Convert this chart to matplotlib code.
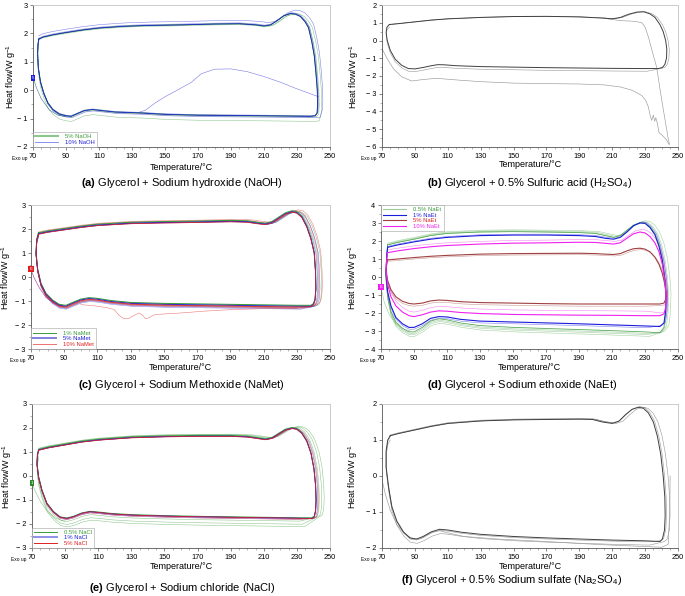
import numpy as np
import matplotlib
matplotlib.use("Agg")
import matplotlib.pyplot as plt
from matplotlib.lines import Line2D
from matplotlib.ticker import MultipleLocator, FuncFormatter

plt.rcParams['font.family'] = ['Liberation Sans', 'DejaVu Sans']
plt.rcParams['mathtext.fontset'] = 'custom'
plt.rcParams['mathtext.rm'] = 'Liberation Sans'
plt.rcParams['mathtext.it'] = 'Liberation Sans:italic'
plt.rcParams['mathtext.bf'] = 'Liberation Sans:bold'

# ---------------- data ----------------
# (a) NaOH : heating branch (upper + right side) and cooling branch (lower + left side)
A_UP_T = [73.5, 76, 82, 90, 100, 110, 125, 140, 160, 180, 195, 205, 210, 214, 218, 222, 226, 229, 232, 235, 237, 239, 240.5, 241.5, 242.3, 242.5, 242.2]
A_UP_Q = [1.80, 1.87, 1.95, 2.03, 2.12, 2.19, 2.25, 2.28, 2.30, 2.33, 2.34, 2.30, 2.26, 2.30, 2.45, 2.62, 2.70, 2.68, 2.60, 2.40, 2.20, 1.70, 1.20, 0.60, 0.00, -0.50, -0.80]
A_LO_T = [241, 238, 225, 210, 190, 170, 150, 135, 120, 112, 106, 101, 97, 93, 90, 86, 82, 79, 76.5, 74.5, 73.2, 72.8, 73.0, 73.5]
A_LO_Q = [-0.90, -0.92, -0.91, -0.90, -0.89, -0.88, -0.85, -0.80, -0.77, -0.72, -0.68, -0.72, -0.82, -0.92, -0.90, -0.84, -0.68, -0.45, -0.10, 0.30, 0.80, 1.30, 1.60, 1.80]
A_INIT_T = [70, 72, 75, 80, 85, 90]
A_INIT_Q = [0.45, 0.10, -0.30, -0.70, -0.88, -0.93]
A_ODD_T = [243, 236, 229, 220, 210, 200, 190, 180, 172, 166, 158, 150, 144, 138, 134]
A_ODD_Q = [-0.23, -0.08, 0.07, 0.28, 0.48, 0.65, 0.75, 0.74, 0.58, 0.28, 0.02, -0.23, -0.45, -0.71, -0.78]
# cycles: (right-side stretch in degC, shift of cooling branch, shift of heating branch)
A_CYC_5 = [(0, 0, 0), (1.0, -0.03, -0.03), (2.5, -0.18, 0.0)]
A_CYC_10 = [(0, 0, 0), (0.5, 0.02, 0.03), (3.2, -0.05, 0.12)]

# (b) 0.5% H2SO4
B_UP_T = [74.5, 80, 90, 100, 110, 130, 150, 170, 190, 205, 210, 215, 220, 225, 229, 233, 236, 239, 241, 242.5, 243.2, 243, 242, 240.5, 238]
B_UP_Q = [0.90, 0.95, 1.05, 1.15, 1.22, 1.30, 1.35, 1.36, 1.33, 1.26, 1.22, 1.30, 1.48, 1.60, 1.62, 1.50, 1.30, 0.90, 0.50, 0.00, -0.50, -1.00, -1.35, -1.52, -1.58]
B_LO_T = [230, 210, 190, 170, 150, 130, 115, 108, 104, 100, 95, 90, 86, 82, 78, 75, 73.2, 72.5, 73, 74.5]
B_LO_Q = [-1.58, -1.57, -1.55, -1.53, -1.50, -1.47, -1.42, -1.37, -1.36, -1.42, -1.52, -1.60, -1.58, -1.40, -1.05, -0.55, 0.00, 0.45, 0.75, 0.90]
B_CYC = [(0, 0, 0), (1.5, -0.15, 0.0)]
B_DROP_T = [205, 215, 224, 228, 230, 232, 234, 237, 240, 242, 244, 244.8]
B_DROP_Q = [1.25, 1.12, 1.08, 1.00, 0.75, 0.20, -0.50, -1.50, -3.30, -4.40, -5.50, -5.85]
B_INIT_T = [70, 73, 77, 82, 88, 95, 103, 115, 130, 150, 170, 190, 205, 215, 222, 228, 230.5, 232, 233, 234, 235, 235.8, 236.5, 237.5, 238.5, 240, 241.5, 243, 244.5]
B_INIT_Q = [-0.45, -1.0, -1.6, -2.05, -2.28, -2.20, -2.13, -2.22, -2.32, -2.40, -2.43, -2.45, -2.50, -2.62, -2.80, -3.10, -3.40, -3.75, -4.20, -4.50, -4.20, -4.55, -4.35, -4.70, -5.20, -5.30, -5.45, -5.60, -5.85]

# (c) NaMet
C_UP_T = [74.5, 80, 90, 100, 110, 130, 150, 170, 190, 200, 206, 211, 215, 219, 223, 227, 230, 233, 236, 238.5, 240.5, 241.3, 241.5, 241, 240, 238.5]
C_UP_Q = [1.80, 1.88, 1.98, 2.08, 2.16, 2.24, 2.27, 2.29, 2.32, 2.30, 2.24, 2.20, 2.27, 2.45, 2.63, 2.72, 2.68, 2.50, 2.10, 1.60, 1.00, 0.20, -0.50, -0.95, -1.15, -1.22]
C_LO_T = [230, 210, 190, 170, 150, 130, 118, 110, 105, 100, 95, 91, 87, 83, 79, 76, 74, 73, 73.5, 74.5]
C_LO_Q = [-1.22, -1.20, -1.18, -1.16, -1.14, -1.10, -1.02, -0.93, -0.90, -0.96, -1.10, -1.22, -1.18, -1.00, -0.72, -0.30, 0.30, 1.00, 1.55, 1.80]
C_INIT_T = [70, 72, 75, 79, 84, 90]
C_INIT_Q = [0.30, -0.05, -0.45, -0.85, -1.10, -1.24]
C_ODD_T = [100, 108, 115, 120, 123, 126, 129, 132, 135, 137, 139, 141, 144, 150, 160, 175, 190, 210, 230]
C_ODD_Q = [-1.15, -1.20, -1.27, -1.35, -1.60, -1.74, -1.72, -1.60, -1.50, -1.58, -1.74, -1.70, -1.58, -1.54, -1.50, -1.42, -1.36, -1.32, -1.30]
C_CYC_1 = [(0, 0.04, 0.04), (1.5, 0.02, 0.0), (3.5, -0.05, 0.02)]
C_CYC_5 = [(0, 0, 0), (1.0, -0.08, -0.02), (2.5, -0.12, 0.0)]
C_CYC_10 = [(0, -0.03, -0.02), (2.0, -0.05, 0.05), (4.0, -0.08, 0.08)]

# (d) NaEt : one loop per concentration
D_UP_T = [74, 80, 90, 100, 110, 130, 150, 170, 190, 200, 206, 211, 215, 219, 223, 227, 230, 233, 236, 238.5, 240.5, 242, 242.8, 242.5, 241.5, 239]
D_LO_T = [230, 210, 190, 170, 150, 130, 118, 110, 105, 100, 95, 90, 87, 83, 79, 76, 74, 73, 73.5, 74]
D_UP_Q_05 = [1.78, 1.92, 2.10, 2.30, 2.42, 2.50, 2.52, 2.50, 2.47, 2.42, 2.30, 2.20, 2.30, 2.60, 2.88, 3.02, 3.00, 2.80, 2.40, 1.80, 1.00, 0.00, -1.00, -2.00, -2.80, -3.10]
D_LO_Q_05 = [-3.05, -2.98, -2.92, -2.86, -2.80, -2.70, -2.55, -2.38, -2.32, -2.45, -2.80, -3.05, -3.05, -2.85, -2.50, -1.90, -1.00, 0.00, 1.20, 1.78]
D_UP_Q_1 = [1.65, 1.78, 1.95, 2.10, 2.20, 2.30, 2.33, 2.33, 2.30, 2.25, 2.15, 2.10, 2.20, 2.50, 2.85, 3.00, 2.98, 2.75, 2.35, 1.70, 0.90, -0.10, -1.00, -1.90, -2.55, -2.75]
D_LO_Q_1 = [-2.72, -2.66, -2.60, -2.55, -2.50, -2.45, -2.35, -2.22, -2.20, -2.30, -2.60, -2.80, -2.80, -2.60, -2.25, -1.60, -0.80, 0.20, 1.20, 1.65]
D_UP_Q_5 = [0.95, 1.00, 1.08, 1.15, 1.20, 1.27, 1.30, 1.31, 1.32, 1.30, 1.27, 1.25, 1.30, 1.45, 1.57, 1.60, 1.55, 1.40, 1.10, 0.70, 0.20, -0.40, -0.90, -1.25, -1.45, -1.50]
D_LO_Q_5 = [-1.50, -1.50, -1.50, -1.48, -1.45, -1.42, -1.37, -1.30, -1.28, -1.33, -1.45, -1.50, -1.47, -1.35, -1.10, -0.70, -0.20, 0.35, 0.75, 0.95]
D_UP_Q_10 = [1.35, 1.45, 1.58, 1.68, 1.75, 1.83, 1.88, 1.90, 1.93, 1.92, 1.87, 1.83, 1.90, 2.15, 2.40, 2.50, 2.45, 2.25, 1.90, 1.40, 0.70, -0.20, -1.00, -1.70, -2.05, -2.15]
D_LO_Q_10 = [-2.15, -2.13, -2.12, -2.10, -2.08, -2.03, -1.97, -1.90, -1.88, -1.95, -2.10, -2.20, -2.15, -1.95, -1.60, -1.10, -0.40, 0.40, 1.00, 1.35]
D_INIT_T = [70, 72, 75, 79, 84, 88]
D_INIT_Q = [-0.60, -1.40, -2.10, -2.60, -2.90, -3.00]
D_CYC_05 = [(0, 0, 0), (0.5, -0.08, 0.0), (1.5, -0.15, 0.05), (3.0, -0.25, 0.10)]
D_CYC_1 = [(0, 0, 0), (1.0, -0.10, 0.05)]
D_CYC_5 = [(0, 0, 0), (1.0, -0.12, -0.08)]
D_CYC_10 = [(0, 0, 0), (1.0, 0.25, 0.15)]

# (e) NaCl
E_UP_T = [74, 80, 90, 100, 110, 130, 150, 170, 190, 200, 206, 211, 215, 219, 223, 227, 230, 233, 236, 238.5, 240.3, 241.3, 241.6, 241.3, 240.5, 239]
E_UP_Q = [1.08, 1.18, 1.30, 1.42, 1.50, 1.60, 1.64, 1.66, 1.66, 1.63, 1.57, 1.52, 1.58, 1.75, 1.92, 1.99, 1.95, 1.78, 1.45, 0.95, 0.30, -0.40, -1.00, -1.45, -1.70, -1.77]
E_LO_T = [230, 210, 190, 170, 150, 130, 118, 110, 105, 100, 95, 91, 87, 83, 79, 76, 74, 73, 73.3, 74]
E_LO_Q = [-1.76, -1.74, -1.72, -1.70, -1.67, -1.63, -1.58, -1.52, -1.49, -1.56, -1.70, -1.77, -1.72, -1.50, -1.15, -0.60, -0.05, 0.50, 0.90, 1.08]
E_INIT_T = [70, 72, 75, 79, 84, 90]
E_INIT_Q = [-0.30, -0.65, -1.05, -1.45, -1.75, -1.90]
E_CYC_05 = [(0, 0.02, 0.03), (2.0, -0.12, 0.04), (3.5, -0.25, 0.06), (5.0, -0.35, 0.08)]
E_CYC_1 = [(0, 0, 0), (1.0, -0.04, 0.0)]
E_CYC_5 = [(0, 0, -0.01), (1.5, -0.05, 0.0)]

# (f) 0.5% Na2SO4
F_UP_T = [75, 80, 90, 100, 110, 130, 150, 170, 190, 198, 204, 210, 214, 218, 222, 226, 229, 232, 235, 237.5, 239.5, 241, 242, 242.2, 241.8, 240.5, 239]
F_UP_Q = [1.12, 1.18, 1.28, 1.38, 1.46, 1.53, 1.56, 1.57, 1.58, 1.57, 1.50, 1.46, 1.52, 1.70, 1.85, 1.91, 1.88, 1.75, 1.50, 1.10, 0.60, 0.00, -0.60, -1.10, -1.50, -1.75, -1.82]
F_LO_T = [230, 210, 190, 170, 150, 130, 118, 110, 105, 100, 95, 91, 87, 83, 79, 76, 74, 72.5, 72.5, 73.5, 75]
F_LO_Q = [-1.80, -1.78, -1.75, -1.72, -1.68, -1.62, -1.56, -1.50, -1.48, -1.55, -1.68, -1.75, -1.72, -1.55, -1.25, -0.85, -0.30, 0.25, 0.70, 1.00, 1.12]
F_INIT_T = [70, 72, 75, 79, 84, 89, 93, 97, 101, 105, 110, 120, 140, 170, 200, 225, 240, 244, 245, 245.2]
F_INIT_Q = [-0.10, -0.50, -0.95, -1.35, -1.62, -1.75, -1.75, -1.65, -1.55, -1.52, -1.58, -1.68, -1.75, -1.82, -1.90, -1.95, -1.98, -1.90, -1.00, 0.00]
F_CYC = [(0, 0, 0), (0.8, -0.03, 0.02), (3.0, -0.12, 0.0)]

GREEN = '#3a9a3a'
BLUE = '#1c1cdc'
RED = '#e02020'
MAGENTA = '#f020f0'
BROWN = '#a04040'
DARK = '#404040'
GRAY = '#9a9a9a'

X_TICKS = [70, 90, 110, 130, 150, 170, 190, 210, 230, 250]


def draw_cycles(ax, up_T, up_Q, lo_T, lo_Q, cycles, color, lw=0.7):
    for k, (st, dl, du) in enumerate(cycles):
        t_up = np.array(up_T) + st * (np.array(up_T) - 70) / 175
        t_lo = np.array(lo_T) + st * (np.array(lo_T) - 70) / 175
        T = np.concatenate([t_up, t_lo])
        Q = np.concatenate([np.array(up_Q) + du, np.array(lo_Q) + dl])
        if k == 0:
            ax.plot(T, Q, color=color, lw=lw, zorder=3)
        else:
            ax.plot(T, Q, color=color, lw=0.4, alpha=0.55, zorder=2)


def fmt_y(v, pos):
    if v < 0:
        return '\u2212 %d' % abs(round(v))
    return '%d' % round(v)


def style(ax, ylo, yhi, ylab_x, xlab_y):
    ax.set_xlim(70, 250)
    ax.set_ylim(ylo, yhi)
    ax.set_xticks(X_TICKS)
    ax.xaxis.set_minor_locator(MultipleLocator(5))
    ax.yaxis.set_major_locator(MultipleLocator(1))
    ax.yaxis.set_minor_locator(MultipleLocator(0.5))
    ax.yaxis.set_major_formatter(FuncFormatter(fmt_y))
    ax.tick_params(which='major', direction='out', length=2.5, width=0.5, labelsize=5.3, pad=1.5, color='#555555')
    ax.tick_params(which='minor', direction='out', length=1.3, width=0.4, color='#777777')
    for s in ['top', 'right']:
        ax.spines[s].set_color('#c4c4c4')
        ax.spines[s].set_linewidth(0.6)
    for s in ['left', 'bottom']:
        ax.spines[s].set_color('#555555')
        ax.spines[s].set_linewidth(0.6)
    ax.set_ylabel('Heat flow/W g$^{-1}$', fontsize=6.5)
    ax.set_xlabel('Temperature/\u00b0C', fontsize=6.5)
    ax.yaxis.set_label_coords(ylab_x, 0.5)
    ax.xaxis.set_label_coords(0.5, xlab_y)
    ax.text(-0.045, -0.065, 'Exo up', transform=ax.transAxes, fontsize=3.5, ha='center', va='top')


def side_mark(ax, y, color, txt):
    ax.text(70, y, txt, fontsize=3.2, color='white', ha='center', va='center', clip_on=False, zorder=6,
            bbox=dict(boxstyle='square,pad=0.25', facecolor=color, edgecolor='none'))


def add_legend(ax, colors, labels, textcolors, loc, widths):
    handles = [Line2D([], [], color=c, lw=w) for c, w in zip(colors, widths)]
    leg = ax.legend(handles, labels, loc=loc, fontsize=4.2, frameon=True, fancybox=False,
                    borderaxespad=0, handlelength=4.0, handletextpad=1.2, labelspacing=0.1,
                    borderpad=0.35)
    for txt, c in zip(leg.get_texts(), textcolors):
        txt.set_color(c)
    leg.get_frame().set_edgecolor('#a0a0a0')
    leg.get_frame().set_linewidth(0.5)


W, H = 685, 596
fig = plt.figure(figsize=(W / 100, H / 100), dpi=100)


def axes_px(l, r, t, b):
    return fig.add_axes([l / W, 1 - b / H, (r - l) / W, (b - t) / H])


# (a)
ax = axes_px(33, 330, 5, 147)
draw_cycles(ax, A_UP_T, A_UP_Q, A_LO_T, A_LO_Q, A_CYC_5, GREEN, lw=0.75)
draw_cycles(ax, A_UP_T, A_UP_Q, A_LO_T, A_LO_Q, A_CYC_10, BLUE, lw=0.55)
ax.plot(A_INIT_T, A_INIT_Q, color=GREEN, lw=0.4, alpha=0.6)
ax.plot(A_INIT_T, A_INIT_Q, color=BLUE, lw=0.4, alpha=0.4)
ax.plot(A_ODD_T, A_ODD_Q, color=BLUE, lw=0.4, alpha=0.6)
style(ax, -2, 3, -0.05, -0.11)
side_mark(ax, 0.44, BLUE, '5')
add_legend(ax, ['#8cc88c', '#7a7ae8'], ['5% NaOH', '10% NaOH'], [GREEN, BLUE], 'lower left', [1.5, 0.6])

# (b)
ax = axes_px(382, 678, 5, 147)
draw_cycles(ax, B_UP_T, B_UP_Q, B_LO_T, B_LO_Q, B_CYC, DARK, lw=0.7)
ax.plot(B_DROP_T, B_DROP_Q, color=GRAY, lw=0.45)
ax.plot(B_INIT_T, B_INIT_Q, color=GRAY, lw=0.45)
style(ax, -6, 2, -0.072, -0.095)

# (c)
ax = axes_px(31, 330, 205, 349)
draw_cycles(ax, C_UP_T, C_UP_Q, C_LO_T, C_LO_Q, C_CYC_1, GREEN, lw=0.75)
draw_cycles(ax, C_UP_T, C_UP_Q, C_LO_T, C_LO_Q, C_CYC_5, BLUE, lw=0.65)
draw_cycles(ax, C_UP_T, C_UP_Q, C_LO_T, C_LO_Q, C_CYC_10, RED, lw=0.55)
ax.plot(C_INIT_T, C_INIT_Q, color=BLUE, lw=0.4, alpha=0.5)
ax.plot(C_INIT_T, C_INIT_Q, color=RED, lw=0.4, alpha=0.5)
ax.plot(C_ODD_T, C_ODD_Q, color=RED, lw=0.4, alpha=0.6)
style(ax, -3, 3, -0.06, -0.10)
side_mark(ax, 0.32, RED, 'E')
add_legend(ax, [GREEN, '#8080e0', '#f07070'], ['1% NaMet', '5% NaMet', '10% NaMet'],
           [GREEN, BLUE, RED], 'lower left', [0.7, 1.4, 0.7])

# (d)
ax = axes_px(381, 678, 205, 349)
draw_cycles(ax, D_UP_T, D_UP_Q_05, D_LO_T, D_LO_Q_05, D_CYC_05, '#5aaa5a', lw=0.6)
draw_cycles(ax, D_UP_T, D_UP_Q_1, D_LO_T, D_LO_Q_1, D_CYC_1, BLUE, lw=0.8)
draw_cycles(ax, D_UP_T, D_UP_Q_5, D_LO_T, D_LO_Q_5, D_CYC_5, BROWN, lw=0.8)
draw_cycles(ax, D_UP_T, D_UP_Q_10, D_LO_T, D_LO_Q_10, D_CYC_10, MAGENTA, lw=0.8)
ax.plot(D_INIT_T, D_INIT_Q, color='#5aaa5a', lw=0.4, alpha=0.6)
style(ax, -4, 4, -0.072, -0.10)
side_mark(ax, -0.55, MAGENTA, 'E')
add_legend(ax, ['#9ccc9c', BLUE, BROWN, MAGENTA], ['0.5% NaEt', '1% NaEt', '5% NaEt', '10% NaEt'],
           [GREEN, BLUE, RED, MAGENTA], 'upper left', [0.8, 0.8, 0.8, 0.8])

# (e)
ax = axes_px(32, 330, 404, 548)
draw_cycles(ax, E_UP_T, E_UP_Q, E_LO_T, E_LO_Q, E_CYC_05, GREEN, lw=0.7)
draw_cycles(ax, E_UP_T, E_UP_Q, E_LO_T, E_LO_Q, E_CYC_1, BLUE, lw=0.65)
draw_cycles(ax, E_UP_T, E_UP_Q, E_LO_T, E_LO_Q, E_CYC_5, RED, lw=0.55)
ax.plot(E_INIT_T, E_INIT_Q, color=GREEN, lw=0.4, alpha=0.6)
style(ax, -3, 3, -0.06, -0.097)
side_mark(ax, -0.3, '#2a8a2a', '1')
add_legend(ax, [GREEN, '#9090e8', RED], ['0.5% NaCl', '1% NaCl', '5% NaCl'],
           [GREEN, BLUE, RED], 'lower left', [0.7, 1.4, 0.7])

# (f)
ax = axes_px(382, 678, 404, 548)
draw_cycles(ax, F_UP_T, F_UP_Q, F_LO_T, F_LO_Q, F_CYC, DARK, lw=0.7)
ax.plot(F_INIT_T, F_INIT_Q, color=GRAY, lw=0.45)
style(ax, -2, 2, -0.076, -0.097)

# captions
fig.text(182 / W, 1 - 183 / H, r'$\mathbf{(a)}$ Glycerol + Sodium hydroxide (NaOH)', ha='center', va='center', fontsize=8)
fig.text(530 / W, 1 - 183 / H, r'$\mathbf{(b)}$ Glycerol + 0.5% Sulfuric acid (H$_2$SO$_4$)', ha='center', va='center', fontsize=8)
fig.text(181 / W, 1 - 385 / H, r'$\mathbf{(c)}$ Glycerol + Sodium Methoxide (NaMet)', ha='center', va='center', fontsize=8)
fig.text(522 / W, 1 - 385 / H, r'$\mathbf{(d)}$ Glycerol + Sodium ethoxide (NaEt)', ha='center', va='center', fontsize=8)
fig.text(182 / W, 1 - 588 / H, r'$\mathbf{(e)}$ Glycerol + Sodium chloride (NaCl)', ha='center', va='center', fontsize=8)
fig.text(512 / W, 1 - 580 / H, r'$\mathbf{(f)}$ Glycerol + 0.5% Sodium sulfate (Na$_2$SO$_4$)', ha='center', va='center', fontsize=8)

fig.savefig('out.png', dpi=100, facecolor='white')
